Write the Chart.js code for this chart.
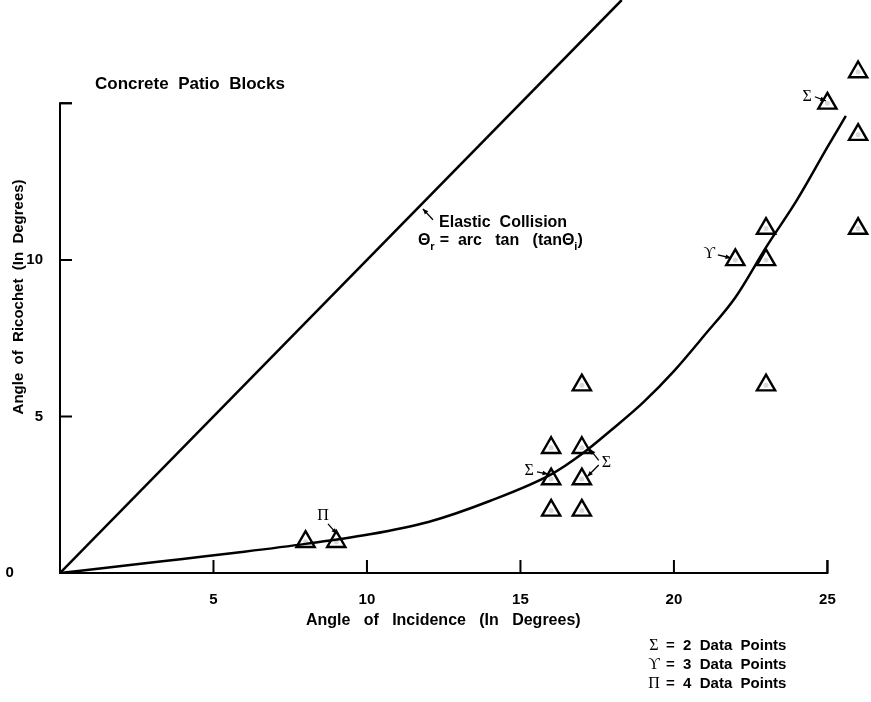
<!DOCTYPE html>
<html>
<head>
<meta charset="utf-8">
<script src="https://cdn.jsdelivr.net/npm/chart.js@4.4.0/dist/chart.umd.min.js"></script>
<style>
  html, body { margin: 0; padding: 0; background: #fff; }
  #wrap { width: 871px; height: 702px; }
</style>
</head>
<body>
<div id="wrap"><canvas id="ricochetChart" width="871" height="702"></canvas></div>
<script>
// measured points: angle of incidence vs angle of ricochet (degrees)
const incidenceAngles = [8, 9, 16, 16, 16, 17, 17, 17, 17, 22, 23, 23, 23, 25, 26, 26, 26];
const ricochetAngles  = [1, 1, 2, 3, 4, 2, 3, 4, 6, 10, 6, 10, 11, 15, 11, 14, 16];

// hand-fitted curve through the data
const fitIncidence = [0, 2, 4, 6, 8, 10, 12, 14, 16, 17, 18, 19, 20, 21, 22, 23, 24, 25, 25.6];
const fitRicochet  = [0, 0.22, 0.45, 0.68, 0.93, 1.22, 1.63, 2.3, 3.15, 3.8, 4.6, 5.45, 6.45, 7.6, 8.8, 10.4, 11.9, 13.6, 14.6];

// elastic collision: theta_r = arctan(tan theta_i)
const elasticIncidence = [0, 18.3];
const elasticRicochet  = [0, 18.3];

const xTickValues = [5, 10, 15, 20, 25];
const yTickValues = [5, 10, 15];
const yTickLabels = ['0', '5', '10'];

const X_MAX = 26.42;
const Y_MAX = 18.3;

const FAMILY = '"Liberation Sans", Arial, sans-serif';
const BOLD = 'bold 15px ' + FAMILY;
const GREEK = '16px "Liberation Serif", "DejaVu Serif", serif';

const toXY = (xs, ys) => xs.map((x, i) => ({ x: x, y: ys[i] }));

function arrow(ctx, x1, y1, x2, y2) {
    const a = Math.atan2(y2 - y1, x2 - x1);
    ctx.beginPath();
    ctx.moveTo(x1, y1);
    ctx.lineTo(x2, y2);
    ctx.stroke();
    ctx.beginPath();
    ctx.moveTo(x2, y2);
    ctx.lineTo(x2 - 6 * Math.cos(a - 0.4), y2 - 6 * Math.sin(a - 0.4));
    ctx.lineTo(x2 - 6 * Math.cos(a + 0.4), y2 - 6 * Math.sin(a + 0.4));
    ctx.closePath();
    ctx.fill();
}

// axis lines that stop at 25 / 15 and tick marks pointing inward, like the paper figure
const paperAxes = {
    id: 'paperAxes',
    beforeDatasetsDraw(chart) {
        const { ctx, scales: { x, y } } = chart;
        const x0 = x.getPixelForValue(0), y0 = y.getPixelForValue(0);
        ctx.save();
        ctx.strokeStyle = '#000';
        ctx.lineWidth = 2;
        ctx.beginPath();
        ctx.moveTo(x0 + 12, y.getPixelForValue(15));
        ctx.lineTo(x0, y.getPixelForValue(15));
        ctx.lineTo(x0, y0);
        ctx.lineTo(x.getPixelForValue(25), y0);
        ctx.lineTo(x.getPixelForValue(25), y0 - 13);
        ctx.stroke();
        ctx.beginPath();
        xTickValues.forEach(v => {
            const px = x.getPixelForValue(v);
            ctx.moveTo(px, y0);
            ctx.lineTo(px, y0 - 13);
        });
        yTickValues.forEach(v => {
            const py = y.getPixelForValue(v);
            ctx.moveTo(x0, py);
            ctx.lineTo(x0 + 12, py);
        });
        ctx.stroke();
        ctx.restore();
    }
};

// texts, greek multiplicity markers and the legend
const notes = {
    id: 'notes',
    afterDraw(chart) {
        const { ctx, scales: { x, y } } = chart;
        const px = v => x.getPixelForValue(v);
        const py = v => y.getPixelForValue(v);
        ctx.save();
        ctx.fillStyle = '#000';
        ctx.strokeStyle = '#000';
        ctx.lineWidth = 1.3;
        ctx.textBaseline = 'middle';

        ctx.font = 'bold 17px ' + FAMILY;
        ctx.fillText('Concrete  Patio  Blocks', 95, 84);

        // elastic collision label
        ctx.font = 'bold 16px ' + FAMILY;
        ctx.fillText('Elastic  Collision', px(12.35), py(11.2));
        let tx = px(11.66), ty = py(10.62);
        ctx.fillText('\u0398', tx, ty);
        tx += ctx.measureText('\u0398').width;
        ctx.font = 'bold 11px ' + FAMILY;
        ctx.fillText('r', tx, ty + 6);
        tx += ctx.measureText('r').width + 5;
        ctx.font = 'bold 16px ' + FAMILY;
        const mid = '=  arc   tan   (tan';
        ctx.fillText(mid, tx, ty);
        tx += ctx.measureText(mid).width;
        ctx.fillText('\u0398', tx, ty);
        tx += ctx.measureText('\u0398').width;
        ctx.font = 'bold 11px ' + FAMILY;
        ctx.fillText('i', tx, ty + 6);
        tx += ctx.measureText('i').width;
        ctx.font = 'bold 16px ' + FAMILY;
        ctx.fillText(')', tx, ty);
        arrow(ctx, px(12.15), py(11.28), px(11.82), py(11.63));

        // multiplicity markers
        ctx.font = GREEK;
        ctx.textAlign = 'center';
        ctx.fillText('\u03A0', px(8.57), py(1.82));
        arrow(ctx, px(8.73), py(1.57), px(9.02), py(1.25));
        ctx.fillText('\u03A3', px(15.28), py(3.26));
        arrow(ctx, px(15.54), py(3.23), px(15.9), py(3.16));
        ctx.fillText('\u03A3', px(17.8), py(3.51));
        arrow(ctx, px(17.55), py(3.6), px(17.27), py(3.95));
        arrow(ctx, px(17.55), py(3.45), px(17.18), py(3.08));
        ctx.fillText('\u03D2', px(21.15), py(10.19));
        arrow(ctx, px(21.43), py(10.16), px(21.86), py(10.06));
        ctx.fillText('\u03A3', px(24.34), py(15.21));
        arrow(ctx, px(24.59), py(15.21), px(24.95), py(15.08));

        // legend
        const legend = [['\u03A3', '2'], ['\u03D2', '3'], ['\u03A0', '4']];
        legend.forEach((row, i) => {
            const ly = 646 + i * 19;
            ctx.textAlign = 'center';
            ctx.font = GREEK;
            ctx.fillText(row[0], 654, ly);
            ctx.textAlign = 'left';
            ctx.font = BOLD;
            ctx.fillText('=  ' + row[1] + '  Data  Points', 666, ly);
        });
        ctx.restore();
    }
};

const ctx = document.getElementById('ricochetChart').getContext('2d');
new Chart(ctx, {
    type: 'scatter',
    data: {
        datasets: [
            {
                label: 'Elastic Collision',
                type: 'line',
                data: toXY(elasticIncidence, elasticRicochet),
                borderColor: '#000',
                borderWidth: 2.5,
                pointRadius: 0,
                fill: false
            },
            {
                label: 'Fit',
                type: 'line',
                data: toXY(fitIncidence, fitRicochet),
                borderColor: '#000',
                borderWidth: 2.5,
                pointRadius: 0,
                cubicInterpolationMode: 'monotone',
                fill: false
            },
            {
                label: 'Data',
                data: toXY(incidenceAngles, ricochetAngles),
                pointStyle: 'triangle',
                pointRadius: 10.5,
                pointBorderWidth: 2.4,
                pointBorderColor: '#000',
                pointBackgroundColor: 'rgba(255,255,255,0.85)'
            },
            {
                label: 'Data centres',
                data: toXY(incidenceAngles, ricochetAngles),
                pointStyle: 'circle',
                pointRadius: 2.5,
                pointBorderWidth: 0,
                pointBackgroundColor: '#000'
            }
        ]
    },
    options: {
        responsive: false,
        animation: false,
        layout: { padding: 0, autoPadding: false },
        plugins: {
            legend: { display: false },
            tooltip: { enabled: false }
        },
        scales: {
            x: {
                type: 'linear',
                min: 0,
                max: X_MAX,
                afterFit: s => {
                    s.height = 129;
                    s.paddingLeft = 0;
                    s.paddingRight = 0;
                },
                grid: { display: false, drawTicks: false },
                border: { display: false },
                ticks: {
                    stepSize: 5,
                    includeBounds: false,
                    autoSkip: false,
                    maxRotation: 0,
                    padding: 18,
                    color: '#000',
                    font: { family: FAMILY, size: 15, weight: 'bold' },
                    callback: v => (v === 0 ? '' : String(v))
                },
                title: {
                    display: true,
                    // trailing spaces nudge the centred title left, as in the original
                    text: 'Angle   of   Incidence   (In   Degrees)          ',
                    color: '#000',
                    font: { family: FAMILY, size: 16, weight: 'bold' },
                    padding: { top: 0, bottom: 72 }
                }
            },
            y: {
                type: 'linear',
                min: 0,
                max: Y_MAX,
                afterFit: s => {
                    s.width = 60;
                    s.paddingTop = 0;
                    s.paddingBottom = 0;
                },
                grid: { display: false, drawTicks: false },
                border: { display: false },
                ticks: {
                    stepSize: 5,
                    includeBounds: false,
                    autoSkip: false,
                    padding: 17,
                    color: '#000',
                    font: { family: FAMILY, size: 15, weight: 'bold' },
                    callback: v => {
                        const i = v / 5;
                        if (i === 0) return yTickLabels[0] + '       ';
                        return yTickLabels[i] || '';
                    }
                },
                title: {
                    display: true,
                    text: 'Angle  of  Ricochet  (In  Degrees)     ',
                    color: '#000',
                    font: { family: FAMILY, size: 15, weight: 'bold' },
                    padding: { top: 10, bottom: 0 }
                }
            }
        }
    },
    plugins: [paperAxes, notes]
});
</script>
</body>
</html>
